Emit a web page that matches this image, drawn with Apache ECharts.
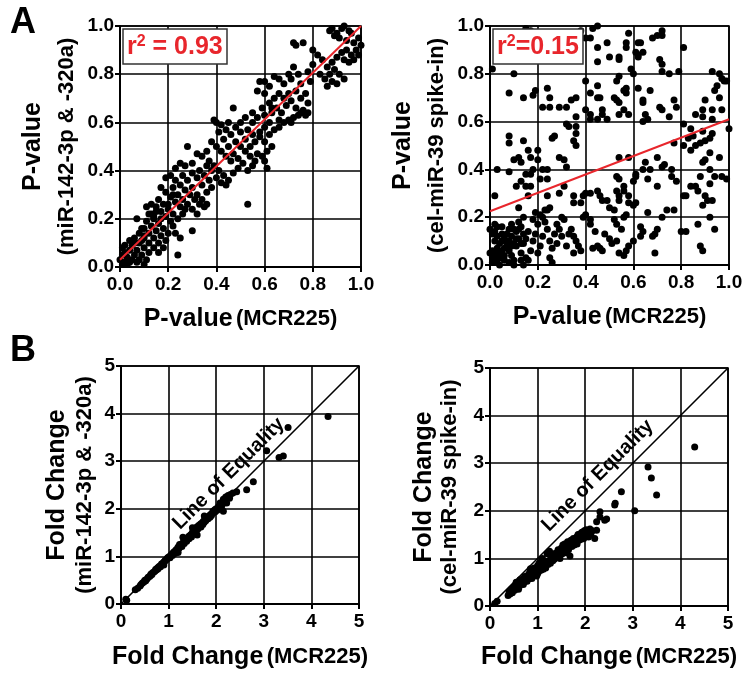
<!DOCTYPE html>
<html><head><meta charset="utf-8">
<script src="https://cdn.jsdelivr.net/npm/echarts@6/dist/echarts.min.js"></script>
<style>html,body{margin:0;padding:0;background:#fff}#c{width:746px;height:675px}</style>
</head><body><div id="c"></div>
<script>
// ---- Data ----
const pA1 = [[0.87,0.98],[0.88,0.99],[0.9,0.97],[0.92,0.99],[0.93,1.0],[0.95,0.98],[0.96,0.97],[0.89,0.96],[0.91,0.95],[0.94,0.94],[0.97,0.93],[0.99,0.95],[0.98,0.9],[0.96,0.88],[0.94,0.9],[0.92,0.89],[0.9,0.87],[0.93,0.86],[0.95,0.85],[0.97,0.86],[0.99,0.88],[1.0,0.92],[0.88,0.85],[0.86,0.83],[0.84,0.86],[0.82,0.88],[0.8,0.9],[0.83,0.8],[0.85,0.78],[0.87,0.8],[0.89,0.82],[0.91,0.8],[0.88,0.77],[0.86,0.75],[0.9,0.76],[0.93,0.78],[0.8,0.84],[0.78,0.81],[0.79,0.77],[0.76,0.93],[0.72,0.93],[0.73,0.92],
[0.6,0.77],[0.58,0.77],[0.62,0.75],[0.64,0.79],[0.66,0.78],[0.68,0.76],[0.7,0.8],[0.72,0.83],[0.71,0.78],[0.74,0.8],[0.75,0.76],[0.73,0.73],[0.7,0.72],[0.68,0.7],[0.66,0.72],[0.64,0.7],[0.62,0.68],[0.6,0.72],[0.59,0.66],[0.57,0.73],[0.55,0.64],[0.57,0.62],[0.6,0.63],[0.63,0.64],[0.65,0.66],[0.67,0.64],[0.69,0.67],[0.71,0.69],[0.73,0.66],[0.75,0.7],[0.77,0.72],[0.78,0.68],[0.76,0.65],[0.78,0.64],[0.74,0.63],[0.72,0.62],[0.68,0.6],[0.66,0.58],[0.7,0.61],[0.62,0.6],[0.6,0.58],[0.58,0.56],[0.55,0.55],[0.53,0.57],[0.55,0.6],[0.52,0.62],[0.5,0.6],[0.47,0.66],[0.45,0.6],[0.48,0.58],[0.5,0.56],[0.52,0.53],[0.54,0.5],[0.56,0.52],[0.58,0.54],[0.6,0.52],[0.62,0.55],[0.64,0.57],[0.63,0.5],[0.61,0.48],[0.59,0.46],[0.57,0.47],[0.56,0.44],[0.54,0.46],[0.52,0.48],[0.5,0.5],[0.48,0.52],[0.46,0.55],[0.44,0.57],[0.42,0.59],[0.4,0.6],[0.39,0.61],[0.41,0.56],[0.43,0.53],[0.45,0.5],[0.47,0.47],[0.49,0.45],[0.51,0.43],[0.53,0.4],[0.55,0.42],[0.61,0.41],[0.6,0.44],[0.46,0.44],[0.44,0.46],[0.42,0.48],[0.4,0.5],[0.38,0.52],[0.36,0.48],[0.37,0.44],[0.39,0.42],[0.41,0.4],[0.43,0.38],[0.45,0.36],[0.47,0.39],[0.49,0.41],[0.44,0.34],[0.42,0.35],[0.4,0.37],[0.38,0.4],[0.36,0.42],[0.34,0.46],[0.32,0.47],[0.3,0.43],[0.33,0.4],[0.35,0.38],[0.37,0.36],[0.38,0.33],[0.36,0.31],[0.34,0.34],[0.32,0.37],[0.3,0.39],[0.28,0.5],[0.27,0.42],[0.25,0.43],[0.23,0.41],[0.26,0.38],[0.28,0.36],[0.3,0.33],[0.32,0.3],[0.34,0.28],[0.36,0.26],[0.35,0.25],[0.33,0.26],[0.31,0.28],[0.29,0.3],[0.27,0.32],[0.25,0.34],[0.23,0.36],[0.21,0.38],[0.19,0.37],[0.22,0.33],[0.24,0.3],[0.26,0.28],[0.28,0.26],[0.3,0.24],[0.32,0.22],[0.3,0.15],[0.53,0.26],[0.24,0.05],[0.25,0.12],[0.23,0.14],[0.22,0.17],[0.24,0.2],[0.26,0.22],[0.27,0.24],[0.25,0.25],[0.23,0.27],[0.21,0.29],[0.19,0.31],[0.17,0.33],[0.16,0.28],[0.18,0.26],[0.2,0.24],[0.22,0.22],[0.21,0.19],[0.19,0.21],[0.17,0.23],[0.15,0.25],[0.13,0.26],[0.12,0.22],[0.14,0.2],[0.16,0.18],[0.18,0.16],[0.2,0.14],[0.19,0.11],[0.17,0.13],[0.15,0.15],[0.13,0.17],[0.11,0.19],[0.1,0.16],[0.12,0.14],[0.14,0.12],[0.16,0.1],[0.18,0.08],[0.16,0.06],[0.14,0.08],[0.12,0.1],[0.1,0.12],[0.08,0.14],[0.06,0.12],[0.08,0.1],[0.1,0.08],[0.12,0.06],[0.11,0.03],[0.09,0.05],[0.07,0.07],[0.05,0.09],[0.04,0.07],[0.06,0.05],[0.08,0.03],[0.1,0.01],[0.07,0.02],[0.05,0.03],[0.03,0.04],[0.02,0.06],[0.01,0.08],[0.02,0.02],[0.01,0.01],[0.03,0.01],[0.04,0.02],[0.0,0.03],[0.01,0.05],[0.02,0.09],[0.04,0.11],[0.06,0.1],[0.09,0.11],[0.07,0.2],[0.1,0.13],[0.13,0.22],[0.09,0.16],[0.11,0.25],[0.14,0.21],[0.15,0.23],[0.17,0.2],[0.2,0.26],[0.22,0.3],[0.71,0.6],[0.75,0.64],[0.77,0.63],[0.66,0.61],[0.63,0.66]];
const fitA1 = [[0, 0.03], [1, 1.0]];

const pA2 = [[0.15,0.99],[0.17,0.98],[0.35,0.97],[0.38,0.98],[0.4,0.95],[0.42,0.95],[0.43,0.99],[0.45,1.0],[0.45,0.91],[0.45,0.85],[0.49,0.93],[0.5,0.87],[0.54,0.87],[0.54,0.86],[0.58,0.97],[0.57,0.93],[0.57,0.91],[0.59,0.82],[0.6,0.8],[0.61,0.89],[0.62,0.88],[0.63,0.93],[0.62,0.93],[0.64,0.89],[0.62,0.87],[0.68,0.95],[0.7,0.96],[0.72,0.98],[0.72,0.96],[0.71,0.86],[0.72,0.84],[0.72,0.81],[0.75,0.8],[0.81,0.91],[0.79,0.81],[0.93,0.81],[0.96,0.8],[0.97,0.78],[0.98,0.77],[0.99,0.77],[0.95,0.75],[0.94,0.73],[0.96,0.7],
[0.01,0.82],[0.1,0.8],[0.08,0.72],[0.14,0.7],[0.18,0.71],[0.19,0.73],[0.24,0.74],[0.25,0.7],[0.22,0.66],[0.25,0.66],[0.29,0.66],[0.32,0.66],[0.34,0.69],[0.36,0.7],[0.4,0.65],[0.42,0.63],[0.45,0.7],[0.45,0.75],[0.46,0.7],[0.42,0.72],[0.4,0.77],[0.47,0.65],[0.47,0.63],[0.49,0.61],[0.45,0.61],[0.42,0.61],[0.52,0.7],[0.53,0.69],[0.54,0.68],[0.53,0.77],[0.54,0.79],[0.56,0.73],[0.57,0.72],[0.56,0.65],[0.58,0.63],[0.54,0.63],[0.57,0.74],[0.62,0.74],[0.64,0.69],[0.64,0.68],[0.67,0.73],[0.65,0.63],[0.66,0.61],[0.64,0.6],[0.71,0.66],[0.72,0.65],[0.75,0.62],[0.77,0.69],[0.78,0.66],[0.81,0.59],[0.89,0.62],[0.89,0.65],[0.86,0.63],[0.9,0.69],[0.93,0.65],[0.97,0.65],[0.93,0.61],
[0.08,0.54],[0.08,0.51],[0.1,0.44],[0.12,0.45],[0.13,0.43],[0.14,0.52],[0.16,0.48],[0.17,0.45],[0.2,0.48],[0.2,0.44],[0.18,0.4],[0.17,0.38],[0.15,0.33],[0.17,0.33],[0.16,0.29],[0.03,0.4],[0.08,0.39],[0.11,0.33],[0.13,0.35],[0.15,0.38],[0.02,0.29],[0.24,0.36],[0.26,0.53],[0.27,0.54],[0.24,0.4],[0.22,0.4],[0.21,0.36],[0.24,0.29],[0.25,0.24],[0.23,0.23],[0.29,0.45],[0.31,0.44],[0.32,0.41],[0.33,0.58],[0.35,0.52],[0.36,0.55],[0.36,0.5],[0.36,0.58],[0.36,0.62],[0.32,0.59],[0.29,0.3],[0.31,0.33],[0.35,0.29],[0.35,0.26],[0.38,0.26],[0.39,0.29],[0.4,0.3],[0.42,0.3],[0.45,0.31],[0.46,0.29],[0.47,0.27],[0.49,0.27],[0.5,0.24],[0.52,0.23],[0.53,0.31],[0.54,0.29],[0.54,0.27],[0.53,0.37],[0.54,0.36],[0.56,0.33],[0.56,0.31],[0.58,0.29],[0.58,0.26],[0.61,0.38],[0.61,0.37],[0.6,0.35],[0.58,0.45],[0.54,0.45],[0.61,0.26],[0.64,0.4],[0.65,0.43],[0.67,0.4],[0.66,0.36],[0.7,0.33],[0.7,0.45],[0.72,0.41],[0.73,0.42],[0.74,0.23],[0.76,0.37],[0.76,0.4],[0.78,0.35],[0.77,0.51],[0.81,0.5],[0.81,0.29],[0.82,0.29],[0.84,0.33],[0.86,0.33],[0.87,0.31],[0.88,0.37],[0.89,0.43],[0.9,0.44],[0.92,0.47],[0.92,0.4],[0.89,0.25],[0.9,0.29],[0.91,0.27],[0.93,0.27],[0.92,0.34],[0.94,0.37],[0.96,0.45],[0.97,0.37],[0.99,0.36],[0.93,0.55],[0.92,0.53],[0.9,0.52],[0.88,0.51],[0.86,0.5],[0.84,0.48],[0.85,0.54],[0.83,0.53],[0.89,0.56],[1.0,0.57],[0.84,0.57],
[0.01,0.01],[0.02,0.02],[0.01,0.03],[0.03,0.01],[0.02,0.05],[0.04,0.03],[0.05,0.06],[0.03,0.07],[0.06,0.04],[0.07,0.08],[0.08,0.06],[0.05,0.1],[0.06,0.12],[0.08,0.1],[0.09,0.12],[0.1,0.09],[0.11,0.14],[0.12,0.11],[0.13,0.16],[0.1,0.15],[0.09,0.17],[0.12,0.18],[0.14,0.13],[0.07,0.13],[0.04,0.09],[0.02,0.1],[0.01,0.06],[0.03,0.12],[0.0,0.15],[0.02,0.17],[0.05,0.16],[0.08,0.15],[0.11,0.08],[0.13,0.05],[0.15,0.03],[0.1,0.02],[0.06,0.02],[0.04,0.0],[0.08,0.01],[0.14,0.09],[0.15,0.11],[0.16,0.14],[0.18,0.1],[0.19,0.13],[0.17,0.06],[0.16,0.02],[0.2,0.05],[0.21,0.08],[0.22,0.12],[0.24,0.15],[0.23,0.18],[0.2,0.17],[0.18,0.19],[0.25,0.1],[0.26,0.07],[0.28,0.09],[0.27,0.13],[0.29,0.15],[0.26,0.01],[0.25,0.03],[0.3,0.12],[0.32,0.08],[0.33,0.13],[0.35,0.12],[0.34,0.15],[0.36,0.1],[0.37,0.08],[0.38,0.06],[0.35,0.05],[0.31,0.19],[0.3,0.2],[0.28,0.17],[0.21,0.21],[0.22,0.2],[0.19,0.22],[0.24,0.23],[0.14,0.2],[0.12,0.24],[0.13,0.02],[0.45,0.08],[0.46,0.07],[0.47,0.06],[0.43,0.07],[0.42,0.19],[0.42,0.17],[0.44,0.14],[0.48,0.13],[0.5,0.11],[0.51,0.09],[0.53,0.1],[0.54,0.05],[0.56,0.04],[0.57,0.06],[0.58,0.08],[0.6,0.1],[0.55,0.15],[0.53,0.17],[0.52,0.19],[0.56,0.2],[0.57,0.21],[0.6,0.25],[0.63,0.16],[0.64,0.14],[0.63,0.12],[0.66,0.22],[0.68,0.12],[0.69,0.13],[0.7,0.15],[0.69,0.05],[0.72,0.2],[0.77,0.23],[0.8,0.14],[0.82,0.14],[0.87,0.17],[0.88,0.08],[0.89,0.06],[0.92,0.2],[0.94,0.15],[0.4,0.21],[0.39,0.2],[0.0,0.05],[0.01,0.13],[0.02,0.14],[0.03,0.16],[0.1,0.0],[0.14,0.0],[0.06,0.07],[0.09,0.04],[0.04,0.05],[0.05,0.13],[0.07,0.1],[0.11,0.11],[0.09,0.08],[0.03,0.03],[0.12,0.15],[0.13,0.09]];
const fitA2 = [[0, 0.225], [1, 0.61]];

const pB1 = [[0.1,0.1],[0.12,0.08],[0.3,0.3],[0.35,0.33],[0.4,0.38],[0.42,0.41],[0.45,0.44],[0.48,0.46],[0.5,0.5],[0.52,0.49],[0.55,0.53],[0.57,0.56],[0.6,0.58],[0.62,0.6],[0.63,0.63],[0.65,0.62],[0.67,0.66],[0.7,0.68],[0.72,0.7],[0.73,0.73],[0.75,0.72],[0.77,0.76],[0.78,0.74],[0.8,0.79],[0.82,0.8],[0.83,0.78],[0.85,0.84],[0.87,0.85],[0.88,0.83],[0.9,0.88],[0.92,0.9],[0.93,0.92],[0.95,0.93],[0.97,0.95],[0.98,0.97],[1.0,0.98],[1.02,1.0],[1.03,0.97],[1.05,1.03],[1.07,1.05],[1.08,1.02],[1.1,1.08],[1.12,1.1],[1.13,1.06],[1.15,1.13],[1.17,1.15],[1.18,1.12],[1.2,1.2],[1.22,1.17],[1.23,1.25],[1.25,1.22],[1.27,1.26],[1.28,1.21],[1.3,1.28],[1.32,1.3],[1.33,1.27],[1.35,1.33],[1.37,1.36],[1.38,1.32],[1.4,1.38],[1.42,1.42],[1.43,1.37],[1.45,1.44],[1.47,1.46],[1.48,1.41],[1.5,1.5],[1.52,1.47],[1.53,1.52],[1.55,1.55],[1.57,1.6],[1.58,1.53],[1.6,1.62],[1.62,1.58],[1.63,1.65],[1.65,1.63],[1.67,1.68],[1.68,1.62],[1.7,1.7],[1.72,1.67],[1.73,1.74],[1.75,1.72],[1.77,1.8],[1.78,1.75],[1.8,1.78],[1.82,1.83],[1.83,1.79],[1.85,1.85],[1.87,1.82],[1.88,1.88],[1.9,1.86],[1.92,1.9],[1.93,1.95],[1.95,1.92],[1.97,1.98],[1.98,1.94],[2.0,2.0],[2.02,1.97],[2.05,2.05],[2.07,2.02],[2.1,2.1],[2.12,2.07],[2.15,2.2],[2.18,2.15],[2.2,2.25],[2.22,2.12],[2.25,2.28],[2.28,2.22],[2.3,2.3],[2.35,2.33],[2.15,1.95],[2.08,2.12],[1.6,1.45],[1.2,1.08],[0.9,0.82],[1.75,1.85],[1.5,1.6],[1.3,1.4],[2.43,2.36],[2.64,2.4],[2.78,2.57],[3.06,3.22],[3.32,3.08],[3.41,3.11],[3.51,3.71],[4.35,3.94]];

const pB2 = [[0.1,0.05],[0.15,0.1],[0.38,0.22],[0.4,0.3],[0.42,0.25],[0.45,0.35],[0.47,0.28],[0.5,0.4],[0.52,0.33],[0.55,0.45],[0.57,0.38],[0.6,0.5],[0.62,0.42],[0.63,0.55],[0.65,0.47],[0.67,0.52],[0.7,0.58],[0.72,0.5],[0.73,0.62],[0.75,0.55],[0.77,0.6],[0.78,0.52],[0.8,0.65],[0.82,0.57],[0.83,0.7],[0.85,0.62],[0.87,0.67],[0.88,0.58],[0.9,0.75],[0.92,0.65],[0.93,0.8],[0.95,0.7],[0.97,0.73],[0.98,0.63],[1.0,0.85],[1.02,0.72],[1.03,0.9],[1.05,0.78],[1.07,0.75],[1.08,0.82],[1.1,0.88],[1.12,0.77],[1.13,0.95],[1.15,0.83],[1.17,0.8],[1.18,0.9],[1.2,1.1],[1.22,0.87],[1.23,0.95],[1.25,1.15],[1.27,0.9],[1.28,1.0],[1.3,1.05],[1.32,0.95],[1.33,1.1],[1.35,0.98],[1.37,1.08],[1.38,1.02],[1.4,1.12],[1.42,1.05],[1.43,1.18],[1.45,1.1],[1.47,1.0],[1.48,1.15],[1.5,1.22],[1.52,1.1],[1.53,1.28],[1.55,1.15],[1.57,1.3],[1.58,1.2],[1.6,1.12],[1.62,1.25],[1.63,1.35],[1.65,1.18],[1.67,1.3],[1.68,1.05],[1.7,1.38],[1.72,1.25],[1.73,1.32],[1.75,1.42],[1.77,1.28],[1.78,1.4],[1.8,1.35],[1.82,1.45],[1.83,1.3],[1.85,1.5],[1.87,1.38],[1.88,1.45],[1.9,1.52],[1.92,1.4],[1.93,1.55],[1.95,1.48],[1.97,1.42],[1.98,1.58],[2.0,1.5],[2.02,1.6],[2.05,1.55],[2.07,1.45],[2.1,1.62],[2.12,1.52],[2.15,1.58],[0.7,0.45],[0.6,0.35],[1.0,0.68],[0.55,0.5],[0.85,0.78],[1.1,1.0],[2.2,1.42],[2.24,1.59],[2.24,1.77],[2.31,1.87],[2.31,1.98],[2.41,1.8],[2.45,1.83],[2.62,2.12],[2.63,2.16],[2.76,2.4],[3.04,2.0],[3.32,2.92],[3.39,2.69],[3.5,2.33],[4.3,3.34]];

const equality = [[0, 0], [5, 5]];
const r2A1 = '0.93';
const r2A2 = '0.15';

// ---- Chart ----
const FF = 'Liberation Sans, Arial, sans-serif';
const RED = '#e8262c';
const grids = [
  {left:120, top:26, width:241, height:241},
  {left:490, top:26, width:239, height:239},
  {left:121, top:366, width:238, height:238},
  {left:490, top:368, width:238, height:238}
];
function xAx(i, max, interval, dec, main, sub, gap) {
  return {
    type:'value', gridIndex:i, min:0, max:max, interval:interval,
    axisLine:{show:true, onZero:false, lineStyle:{color:'#000', width:2}},
    axisTick:{show:true, length:5, lineStyle:{color:'#000', width:2}},
    axisLabel:{color:'#000', fontFamily:FF, fontWeight:'bold', fontSize:19, margin:8,
      formatter: v => v.toFixed(dec)},
    splitLine:{show:true, lineStyle:{color:'#000', width:1.6}},
    name:'{a|' + main + '} {b|' + sub + '}', nameLocation:'middle', nameGap:gap,
    nameTextStyle:{rich:{a:{fontFamily:FF, fontWeight:'bold', fontSize:25, color:'#000', lineHeight:30},
                        b:{fontFamily:FF, fontWeight:'bold', fontSize:22, color:'#000', lineHeight:30}}}
  };
}
function yAx(i, max, interval, dec, main, sub, gap, lh) {
  return {
    type:'value', gridIndex:i, min:0, max:max, interval:interval,
    axisLine:{show:true, onZero:false, lineStyle:{color:'#000', width:2}},
    axisTick:{show:true, length:5, lineStyle:{color:'#000', width:2}},
    axisLabel:{color:'#000', fontFamily:FF, fontWeight:'bold', fontSize:19, margin:6,
      formatter: v => v.toFixed(dec)},
    splitLine:{show:true, lineStyle:{color:'#000', width:1.6}},
    name:'{a|' + main + '}\n{b|' + sub + '}', nameLocation:'middle', nameGap:gap, nameRotate:90,
    nameTextStyle:{rich:{a:{fontFamily:FF, fontWeight:'bold', fontSize:25, color:'#000', lineHeight:lh, align:'center'},
                        b:{fontFamily:FF, fontWeight:'bold', fontSize:22, color:'#000', lineHeight:lh, align:'center'}}}
  };
}
function pts(i, data, size) {
  return {type:'scatter', xAxisIndex:i, yAxisIndex:i, data:data, symbolSize:size,
    itemStyle:{color:'#000', opacity:1}, silent:true, z:2};
}
function fit(i, data) {
  return {type:'line', xAxisIndex:i, yAxisIndex:i, data:data, symbol:'none', silent:true,
    lineStyle:{color:RED, width:2}, z:4};
}
function eqLine(i) {
  return {type:'line', xAxisIndex:i, yAxisIndex:i, data:[], silent:true,
    markLine:{symbol:'none', silent:true, animation:false,
      lineStyle:{color:'#000', type:'solid', width:1.6},
      label:{show:true, formatter:'Line of Equality', position:'insideMiddleTop', distance:6,
        color:'#000', fontFamily:FF, fontWeight:'bold', fontSize:20},
      data:[[{coord:equality[0]},{coord:equality[1]}]]}};
}
function r2box(left, txt, pad) {
  return {left:left, top:29, text:'{r|r}{s|2}{r|' + txt + '}',
    backgroundColor:'#fff', borderColor:'#333', borderWidth:1.5, padding:pad,
    textStyle:{rich:{r:{color:RED, fontFamily:FF, fontWeight:'bold', fontSize:25, lineHeight:26},
                     s:{color:RED, fontFamily:FF, fontWeight:'bold', fontSize:16, lineHeight:26, verticalAlign:'top'}}}};
}
const chart = echarts.init(document.getElementById('c'), null, {renderer:'canvas'});
chart.setOption({
  animation:false,
  backgroundColor:'#fff',
  title:[
    r2box(123, ' = ' + r2A1, [5,4]),
    r2box(493, '=' + r2A2, [5,4]),
    {left:5, top:0, text:'A', textStyle:{fontFamily:FF, fontWeight:'bold', fontSize:36, color:'#000'}},
    {left:5, top:328, text:'B', textStyle:{fontFamily:FF, fontWeight:'bold', fontSize:36, color:'#000'}}
  ],
  grid: grids.map(g => Object.assign({show:true, borderColor:'#000', borderWidth:1.6, backgroundColor:'transparent'}, g)),
  xAxis:[
    xAx(0, 1, 0.2, 1, 'P-value', '(MCR225)', 37),
    xAx(1, 1, 0.2, 1, 'P-value', '(MCR225)', 37),
    xAx(2, 5, 1, 0, 'Fold Change', '(MCR225)', 38),
    xAx(3, 5, 1, 0, 'Fold Change', '(MCR225)', 36)
  ],
  yAxis:[
    yAx(0, 1, 0.2, 1, 'P-value', '(miR-142-3p & -320a)', 36, 34),
    yAx(1, 1, 0.2, 1, 'P-value', '(cel-miR-39 spike-in)', 37, 33),
    yAx(2, 5, 1, 0, 'Fold Change', '(miR-142-3p & -320a)', 23, 27),
    yAx(3, 5, 1, 0, 'Fold Change', '(cel-miR-39 spike-in)', 27, 26)
  ],
  series:[
    pts(0, pA1, 7), fit(0, fitA1),
    pts(1, pA2, 7), fit(1, fitA2),
    pts(2, pB1, 7), eqLine(2),
    pts(3, pB2, 7), eqLine(3)
  ]
});
</script></body></html>
